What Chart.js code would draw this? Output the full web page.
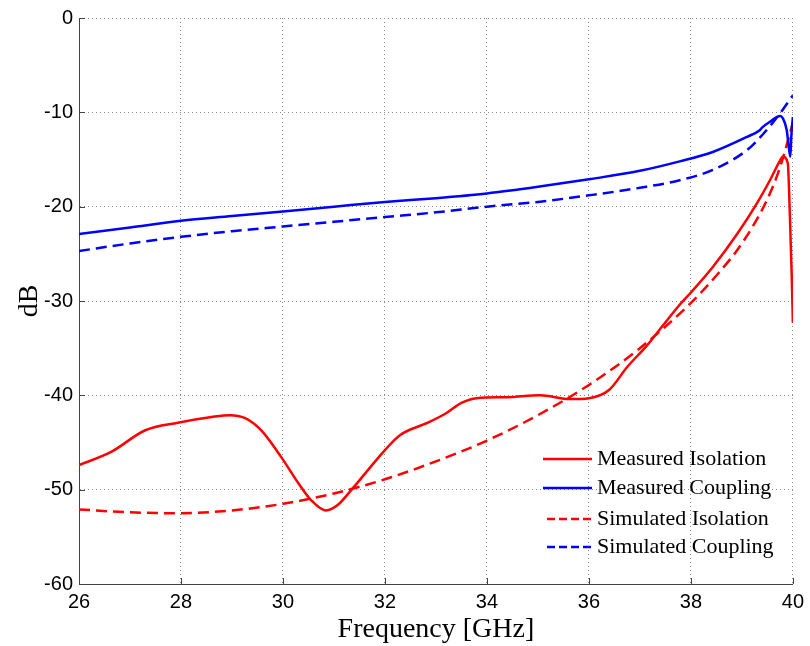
<!DOCTYPE html>
<html>
<head>
<meta charset="utf-8">
<script src="https://cdn.jsdelivr.net/npm/chart.js@4.4.0/dist/chart.umd.min.js"></script>
<style>
  body { margin: 0; background: #fff; }
  #wrap { width: 810px; height: 646px; }
</style>
</head>
<body>
<div id="wrap"><canvas id="couplerChart" width="810" height="646"></canvas></div>
<script>
// values (GHz / dB)
const measIsoFreq = [26, 26.63, 27.3, 27.94, 28.6, 28.96, 29.25, 29.57, 29.96, 30.3, 30.55, 30.84, 31.08, 31.33, 31.67, 32.0, 32.3, 32.84, 33.2, 33.5, 33.8, 34.4, 35.04, 35.63, 36.0, 36.4, 36.75, 37.14, 37.45, 37.78, 38.0, 38.43, 38.92, 39.3, 39.55, 39.75, 39.8, 39.9, 39.94, 39.98, 40.0];
const measIso = [-47.4, -46.0, -43.7, -42.9, -42.3, -42.1, -42.4, -43.7, -46.5, -49.3, -51.1, -52.2, -51.6, -50.1, -47.9, -45.8, -44.2, -42.9, -41.9, -40.8, -40.3, -40.2, -40.0, -40.4, -40.3, -39.4, -37.0, -34.7, -32.6, -30.4, -29.1, -26.4, -22.8, -19.6, -17.2, -15.1, -14.7, -15.4, -20.7, -27.8, -32.3];

const measCplFreq = [26, 27, 28, 29, 30, 31, 32, 33, 34, 35, 36, 37, 37.78, 38.43, 39.1, 39.35, 39.4, 39.55, 39.75, 39.8, 39.88, 39.92, 39.95, 39.97, 40.0];
const measCpl = [-22.9, -22.2, -21.5, -21.0, -20.5, -20.0, -19.5, -19.1, -18.6, -17.9, -17.1, -16.2, -15.2, -14.2, -12.6, -11.9, -11.6, -11.0, -10.4, -10.6, -11.9, -13.7, -14.7, -12.5, -10.5];

const simIsoFreq = [26, 27, 28, 29, 30, 31, 32, 33, 34, 35, 36, 37, 38, 38.5, 39, 39.5, 39.75, 40.0];
const simIso = [-52.1, -52.4, -52.5, -52.2, -51.5, -50.4, -48.9, -47.0, -44.8, -42.1, -38.9, -35.0, -30.2, -27.3, -23.9, -19.2, -15.8, -11.1];

const simCplFreq = [26, 27, 28, 29, 30, 31, 32, 33, 34, 35, 36, 37, 37.78, 38.43, 39.1, 39.4, 39.75, 40.0];
const simCpl = [-24.7, -23.9, -23.2, -22.6, -22.1, -21.6, -21.1, -20.6, -20.0, -19.5, -18.8, -18.0, -17.2, -16.1, -14.0, -12.4, -10.1, -8.2];

const xTicks = [26, 28, 30, 32, 34, 36, 38, 40];
const yTicks = [0, -10, -20, -30, -40, -50, -60];

function toPoints(xs, ys) {
    return xs.map((x, i) => ({ x: x, y: ys[i] }));
}

function series(label, xs, ys, color, dash) {
    return {
        label: label,
        data: toPoints(xs, ys),
        borderColor: color,
        backgroundColor: color,
        borderWidth: 2.5,
        borderDash: dash,
        showLine: true,
        pointRadius: 0,
        cubicInterpolationMode: 'monotone'
    };
}

// legend inside the plot (bottom right, no frame) + small inward ticks
const innerLegend = {
    id: 'innerLegend',
    afterDatasetsDraw(chart) {
        const ctx = chart.ctx;
        const area = chart.chartArea;
        const xs = chart.scales.x, ys = chart.scales.y;
        ctx.save();
        ctx.strokeStyle = '#444';
        ctx.lineWidth = 1;
        ctx.beginPath();
        xTicks.forEach(v => {
            const px = Math.round(xs.getPixelForValue(v)) + 0.5;
            ctx.moveTo(px, area.bottom); ctx.lineTo(px, area.bottom - 6);
        });
        yTicks.forEach(v => {
            const py = Math.round(ys.getPixelForValue(v)) + 0.5;
            ctx.moveTo(area.left, py); ctx.lineTo(area.left + 6, py);
        });
        ctx.stroke();

        const rows = [459, 488, 519, 547];
        ctx.font = '22px "Liberation Serif"';
        ctx.textBaseline = 'middle';
        ctx.fillStyle = '#000';
        chart.data.datasets.forEach((ds, i) => {
            const y = rows[i];
            const dashed = ds.borderDash.length > 0;
            ctx.beginPath();
            ctx.strokeStyle = ds.borderColor;
            ctx.lineWidth = 2.5;
            ctx.setLineDash(dashed ? [8, 4] : []);
            ctx.moveTo(dashed ? 547 : 543, y);
            ctx.lineTo(592, y);
            ctx.stroke();
            ctx.setLineDash([]);
            ctx.fillText(ds.label, 597, y);
        });
        ctx.restore();
    }
};

const ctx = document.getElementById('couplerChart').getContext('2d');
const couplerChart = new Chart(ctx, {
    type: 'scatter',
    data: {
        datasets: [
            series('Measured Isolation', measIsoFreq, measIso, '#ff0000', []),
            series('Measured Coupling', measCplFreq, measCpl, '#0000ff', []),
            series('Simulated Isolation', simIsoFreq, simIso, '#ff0000', [11, 6]),
            series('Simulated Coupling', simCplFreq, simCpl, '#0000ff', [11, 6])
        ]
    },
    options: {
        responsive: false,
        animation: false,
        devicePixelRatio: 1,
        layout: { padding: { left: 0, right: 17, top: 18, bottom: 0 } },
        plugins: {
            legend: { display: false },
            tooltip: { enabled: false }
        },
        scales: {
            x: {
                type: 'linear',
                min: 26,
                max: 40,
                afterBuildTicks: (scale) => { scale.ticks = xTicks.map(v => ({ value: v })); },
                afterFit: (scale) => { scale.height = 62; },
                ticks: {
                    color: '#000',
                    font: { family: '"Liberation Sans"', size: 20 },
                    padding: 6,
                    maxRotation: 0
                },
                grid: { color: '#888', lineWidth: 1, drawTicks: false },
                border: { color: '#444', width: 1, dash: [1, 3] },
                title: {
                    display: true,
                    text: 'Frequency [GHz]',
                    color: '#000',
                    font: { family: '"Liberation Serif"', size: 28 },
                    padding: { top: 0, bottom: 0 }
                }
            },
            y: {
                type: 'linear',
                min: -60,
                max: 0,
                afterBuildTicks: (scale) => { scale.ticks = yTicks.map(v => ({ value: v })); },
                afterFit: (scale) => { scale.width = 79; },
                ticks: {
                    color: '#000',
                    font: { family: '"Liberation Sans"', size: 20 },
                    padding: 6
                },
                grid: { color: '#888', lineWidth: 1, drawTicks: false },
                border: { color: '#444', width: 1, dash: [1, 3] },
                title: {
                    display: true,
                    text: 'dB',
                    color: '#000',
                    font: { family: '"Liberation Serif"', size: 28 },
                    padding: { top: 13, bottom: 0 }
                }
            }
        }
    },
    plugins: [innerLegend]
});
</script>
</body>
</html>
